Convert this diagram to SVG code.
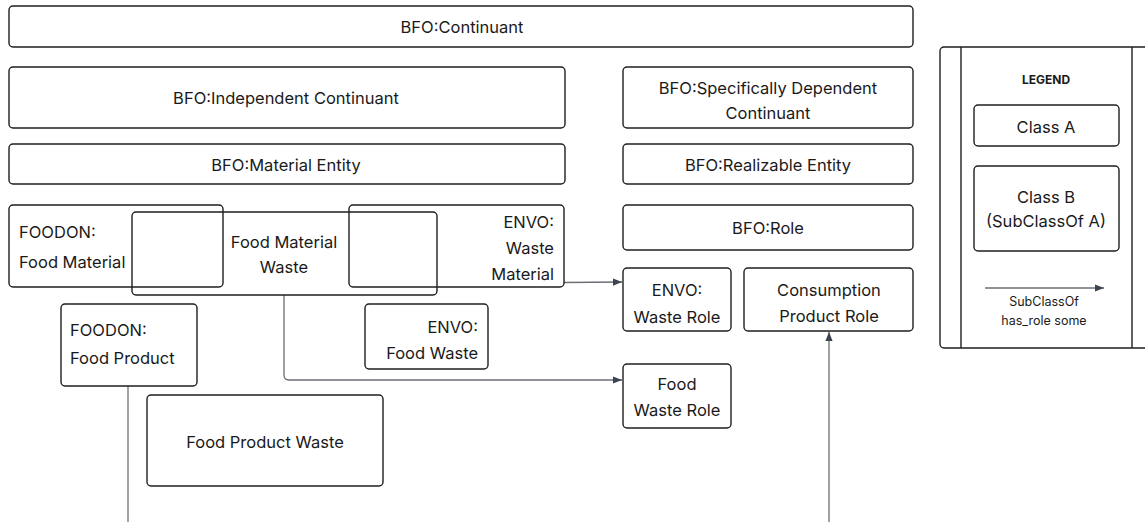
<svg xmlns="http://www.w3.org/2000/svg" width="1145" height="522" viewBox="0 0 1145 522">
<defs>
<style>
.box{fill:none;stroke:#1f1f1f;stroke-width:1.4}
.t{font-family:Inter,"Liberation Sans",sans-serif;font-size:16.5px;fill:#1a1a1a}
.c{text-anchor:middle}
.r{text-anchor:end}
.conn{fill:none;stroke:#6b6f75;stroke-width:1.3}
.lg{font-family:Inter,"Liberation Sans",sans-serif;font-size:12.5px;fill:#1a1a1a;text-anchor:middle}
</style>
<marker id="ah" viewBox="0 0 10 10" refX="10" refY="5" markerWidth="9" markerHeight="9" markerUnits="userSpaceOnUse" orient="auto">
<path d="M0,1 L10,5 L0,9 Z" fill="#3d4450"/>
</marker>
</defs>
<rect width="1145" height="522" fill="#ffffff"/>

<g id="connectors">
<path class="conn" d="M564,282.5 L622,282" marker-end="url(#ah)"/>
<path class="conn" d="M284,295 L284,375 Q284,380 289,380 L622,380" marker-end="url(#ah)"/>
<path class="conn" d="M128,386 L128,530"/>
<path class="conn" d="M829,530 L829,332" marker-end="url(#ah)"/>
</g>

<g id="n-continuant"><rect class="box" x="9" y="6" width="904" height="41" rx="4"/><text class="t c" x="462" y="32.5">BFO:Continuant</text></g>
<g id="n-independent"><rect class="box" x="9" y="67" width="556" height="61" rx="4"/><text class="t c" x="286" y="103.5">BFO:Independent Continuant</text></g>
<g id="n-material"><rect class="box" x="9" y="144" width="556" height="40" rx="4"/><text class="t c" x="286" y="170.5">BFO:Material Entity</text></g>
<g id="n-foodmaterial"><rect class="box" x="9" y="205" width="214" height="82" rx="4"/><text class="t" x="19" y="238">FOODON:</text><text class="t" x="19" y="268">Food Material</text></g>
<g id="n-foodmaterialwaste"><rect class="box" x="132" y="212" width="305" height="83" rx="4"/><text class="t c" x="284" y="248">Food Material</text><text class="t c" x="284" y="273">Waste</text></g>
<g id="n-wastematerial"><rect class="box" x="349" y="205" width="215" height="82" rx="4"/><text class="t r" x="554" y="228">ENVO:</text><text class="t r" x="554" y="254">Waste</text><text class="t r" x="554" y="280">Material</text></g>
<g id="n-foodproduct"><rect class="box" x="61" y="304" width="136" height="82" rx="4"/><text class="t" x="70" y="336">FOODON:</text><text class="t" x="70" y="364">Food Product</text></g>
<g id="n-foodwaste"><rect class="box" x="365" y="304" width="123" height="65" rx="4"/><text class="t r" x="478" y="333">ENVO:</text><text class="t r" x="478" y="359">Food Waste</text></g>
<g id="n-foodproductwaste"><rect class="box" x="147" y="395" width="236" height="91" rx="4"/><text class="t c" x="265" y="448">Food Product Waste</text></g>

<g id="n-sdc"><rect class="box" x="623" y="67" width="290" height="61" rx="4"/><text class="t c" x="768" y="94">BFO:Specifically Dependent</text><text class="t c" x="768" y="119">Continuant</text></g>
<g id="n-realizable"><rect class="box" x="623" y="144" width="290" height="40" rx="4"/><text class="t c" x="768" y="171">BFO:Realizable Entity</text></g>
<g id="n-role"><rect class="box" x="623" y="205" width="290" height="45" rx="4"/><text class="t c" x="768" y="233.5">BFO:Role</text></g>
<g id="n-wasterole"><rect class="box" x="623" y="268" width="108" height="63" rx="4"/><text class="t c" x="677" y="296">ENVO:</text><text class="t c" x="677" y="323">Waste Role</text></g>
<g id="n-consumption"><rect class="box" x="744" y="268" width="169" height="63" rx="4"/><text class="t c" x="829" y="296">Consumption</text><text class="t c" x="829" y="322">Product Role</text></g>
<g id="n-foodwasterole"><rect class="box" x="623" y="364" width="108" height="64" rx="4"/><text class="t c" x="677" y="390">Food</text><text class="t c" x="677" y="416">Waste Role</text></g>

<g id="legend">
<rect class="box" x="940" y="47" width="220" height="301" rx="4"/>
<line class="box" x1="961" y1="47" x2="961" y2="348"/>
<line class="box" x1="1132" y1="47" x2="1132" y2="348"/>
<text x="1046" y="84" style="font-family:Inter,'Liberation Sans',sans-serif;font-size:12px;font-weight:bold;fill:#1a1a1a;text-anchor:middle">LEGEND</text>
<rect class="box" x="974" y="105" width="145" height="41" rx="4"/>
<text class="t c" x="1046" y="132.5">Class A</text>
<rect class="box" x="974" y="166" width="145" height="85" rx="4"/>
<text class="t c" x="1046" y="202.5">Class B</text>
<text class="t c" x="1046" y="227">(SubClassOf A)</text>
<path class="conn" d="M985,288 L1104,288" marker-end="url(#ah)"/>
<text class="lg" x="1044" y="306">SubClassOf</text>
<text class="lg" x="1044" y="325">has_role some</text>
</g>
</svg>
